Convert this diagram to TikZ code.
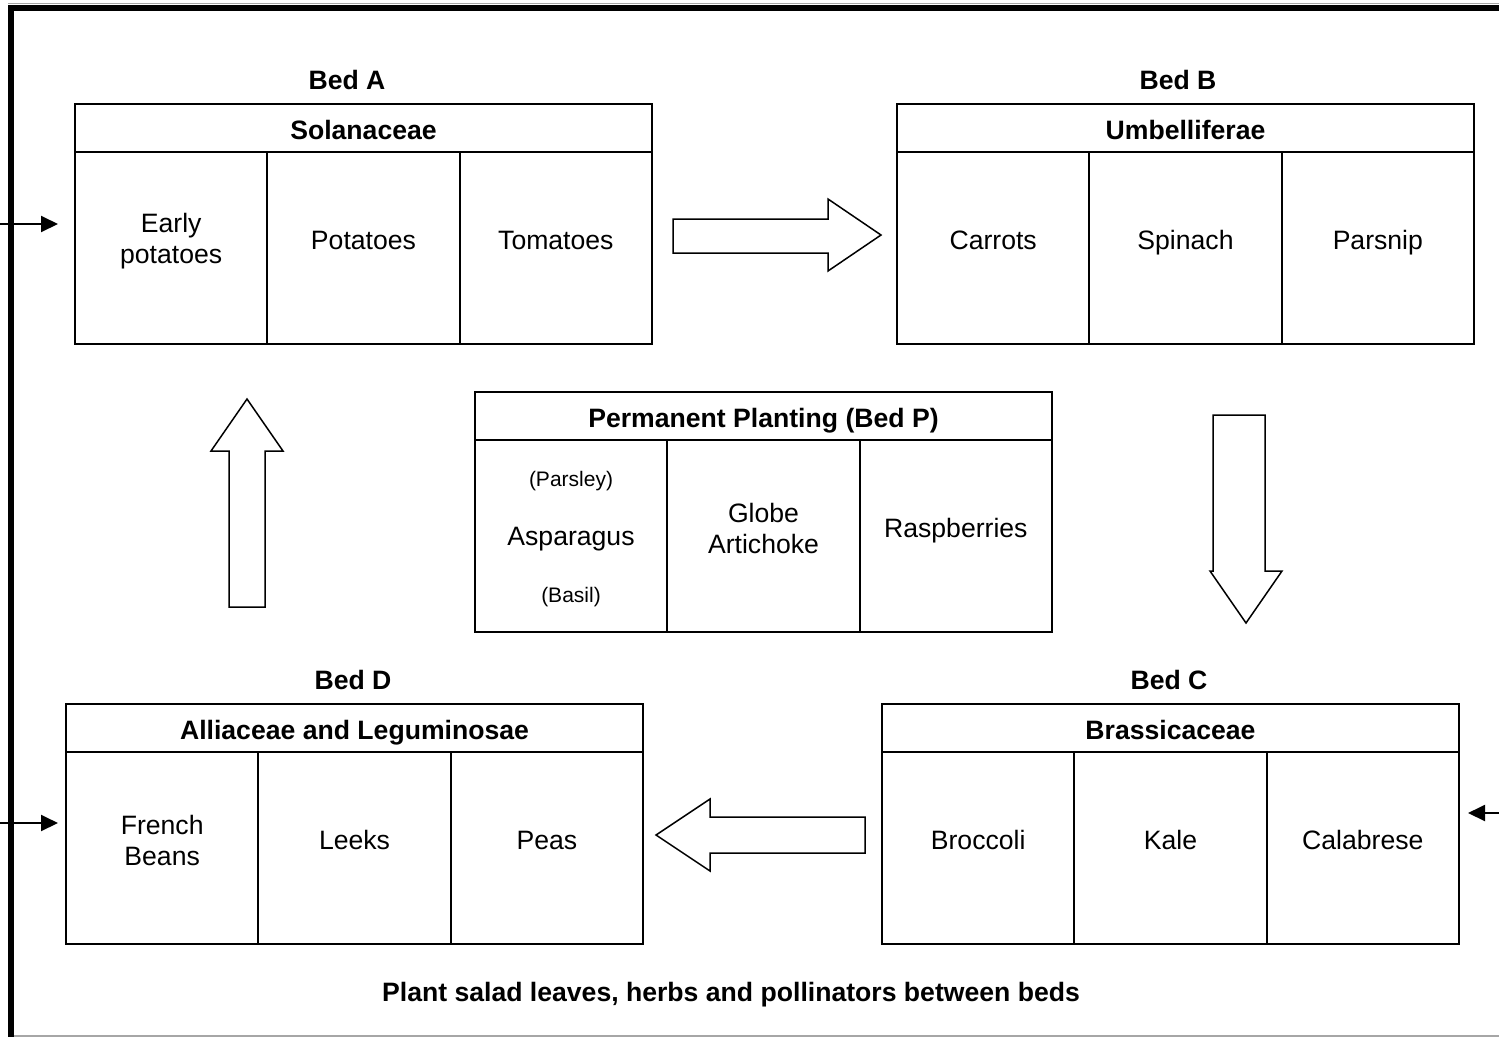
\documentclass[tikz,border=0pt]{standalone}
\usepackage{fontspec}
\setmainfont{Liberation Sans}
\usetikzlibrary{arrows.meta,calc}
\begin{document}
\begin{tikzpicture}[x=1pt,y=-1pt,
  hdr/.style={draw, line width=2pt, minimum width=577pt, minimum height=48pt, anchor=north west, inner sep=0pt, text height=25pt, text depth=2pt, font=\bfseries\fontsize{26.6}{31}\selectfont},
  cell/.style={draw, line width=2pt, minimum width=192.33pt, minimum height=192pt, anchor=north west, inner sep=0pt},
  ctext/.style={align=center, inner sep=0pt, font=\fontsize{26.6}{31}\selectfont},
  stext/.style={inner sep=0pt, anchor=base, font=\fontsize{26.6}{31}\selectfont},
  small/.style={inner sep=0pt, font=\fontsize{21}{25}\selectfont},
  bedlabel/.style={inner sep=0pt, font=\bfseries\fontsize{26.6}{31}\selectfont},
  blockarrow/.style={draw, line width=1.5pt, fill=white, line join=miter},
  edgearrow/.style={line width=2pt, -{Triangle[length=17pt,width=16pt]}}
]
\useasboundingbox (0,0) rectangle (1499,1037);
% frame
\draw[line width=1.5pt, gray!70] (8,3.5) -- (1499,3.5);
\draw[line width=1.5pt, gray!70] (13,1036) -- (1499,1036);
\draw[line width=6pt] (8,7.5) -- (1499,7.5);
\draw[line width=6pt] (10.5,5) -- (10.5,1037);

% Bed A
\node[bedlabel] (lA) at (347,80) {Bed A};
\node[hdr] (hA) at (74,103) {Solanaceae};
\node[cell] (cA1) at (74,151) {};
\node[cell] (cA2) at (266.33,151) {};
\node[cell] (cA3) at (458.67,151) {};
\node[ctext] (tA1) at ([yshift=7pt]cA1.center) {Early\\potatoes};
\node[stext] (tA2) at ([yshift=-1pt]cA2.center) {Potatoes};
\node[stext] (tA3) at ([yshift=-1pt]cA3.center) {Tomatoes};

% Bed B
\node[bedlabel] (lB) at (1178,80) {Bed B};
\node[hdr] (hB) at (896,103) {Umbelliferae};
\node[cell] (cB1) at (896,151) {};
\node[cell] (cB2) at (1088.33,151) {};
\node[cell] (cB3) at (1280.67,151) {};
\node[stext] (tB1) at ([yshift=-1pt]cB1.center) {Carrots};
\node[stext] (tB2) at ([yshift=-1pt]cB2.center) {Spinach};
\node[stext] (tB3) at ([yshift=-1pt]cB3.center) {Parsnip};

% Bed P
\node[hdr] (hP) at (474,391) {Permanent Planting (Bed P)};
\node[cell] (cP1) at (474,439) {};
\node[cell] (cP2) at (666.33,439) {};
\node[cell] (cP3) at (858.67,439) {};
\node[small] (tP1a) at (571,481) {(Parsley)};
\node[ctext] (tP1b) at (571,539) {Asparagus};
\node[small] (tP1c) at (571,597) {(Basil)};
\node[ctext] (tP2) at ([yshift=8pt]cP2.center) {Globe\\Artichoke};
\node[stext] (tP3) at ([yshift=-1pt]cP3.center) {Raspberries};

% Bed D
\node[bedlabel] (lD) at (353,680) {Bed D};
\node[hdr] (hD) at (65,703) {Alliaceae and Leguminosae};
\node[cell] (cD1) at (65,751) {};
\node[cell] (cD2) at (257.33,751) {};
\node[cell] (cD3) at (449.67,751) {};
\node[ctext] (tD1) at ([yshift=8pt]cD1.center) {French\\Beans};
\node[stext] (tD2) at ([yshift=-1pt]cD2.center) {Leeks};
\node[stext] (tD3) at ([yshift=-1pt]cD3.center) {Peas};

% Bed C
\node[bedlabel] (lC) at (1169,680) {Bed C};
\node[hdr] (hC) at (881,703) {Brassicaceae};
\node[cell] (cC1) at (881,751) {};
\node[cell] (cC2) at (1073.33,751) {};
\node[cell] (cC3) at (1265.67,751) {};
\node[stext] (tC1) at ([yshift=-1pt]cC1.center) {Broccoli};
\node[stext] (tC2) at ([yshift=-1pt]cC2.center) {Kale};
\node[stext] (tC3) at ([yshift=-1pt]cC3.center) {Calabrese};

% block arrows
\draw[blockarrow] (673,219) -- (828,219) -- (828,199) -- (881,235) -- (828,271) -- (828,253) -- (673,253) -- cycle;
\draw[blockarrow] (1213,415) -- (1265,415) -- (1265,571) -- (1282,571) -- (1246,623) -- (1210,571) -- (1213,571) -- cycle;
\draw[blockarrow] (865,817) -- (710,817) -- (710,799) -- (656,835) -- (710,871) -- (710,853) -- (865,853) -- cycle;
\draw[blockarrow] (229,607) -- (229,451) -- (211,451) -- (247,399) -- (283,451) -- (265,451) -- (265,607) -- cycle;

% edge arrows
\coordinate (inA) at (0,224);
\coordinate (inD) at (0,823);
\coordinate (inC) at (1499,813);
\draw[edgearrow, shorten >=16pt] (inA) -- (inA -| cA1.west);
\draw[edgearrow, shorten >=7pt] (inD) -- (inD -| cD1.west);
\draw[edgearrow, shorten >=8pt] (inC) -- (inC -| cC3.east);

% footer
\node[bedlabel] (foot) at (731,995) {Plant salad leaves, herbs and pollinators between beds};
\end{tikzpicture}
\end{document}
